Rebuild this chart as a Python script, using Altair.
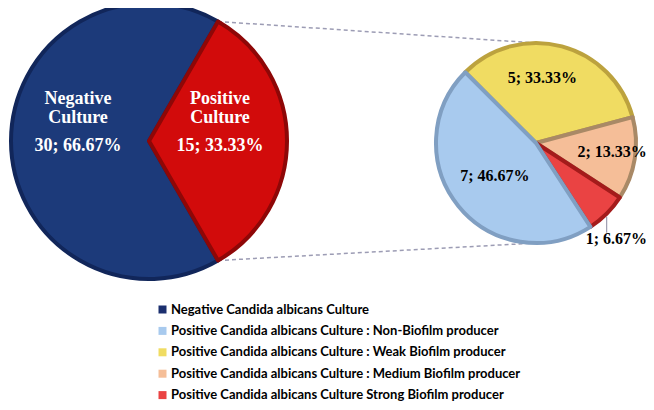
import math
import altair as alt
import pandas as pd

# ---------------- data ----------------
main_names = ["Negative Culture", "Positive Culture"]
main_word1 = ["Negative", "Positive"]
main_word2 = ["Culture", "Culture"]
main_counts = [30, 15]
main_percents = ["66.67%", "33.33%"]

sub_names = [
    "Positive Candida albicans Culture : Weak Biofilm producer",
    "Positive Candida albicans Culture : Medium Biofilm producer",
    "Positive Candida albicans Culture Strong Biofilm producer",
    "Positive Candida albicans Culture : Non-Biofilm producer",
]
sub_counts = [5, 2, 1, 7]
sub_percents = ["33.33%", "13.33%", "6.67%", "46.67%"]

legend_names = [
    "Negative Candida albicans Culture",
    "Positive Candida albicans Culture : Non-Biofilm producer",
    "Positive Candida albicans Culture : Weak Biofilm producer",
    "Positive Candida albicans Culture : Medium Biofilm producer",
    "Positive Candida albicans Culture Strong Biofilm producer",
]

# ---------------- layout / styles ----------------
W, H = 638, 394
MAIN_CX, MAIN_CY, MAIN_R = 141, 133, 138
SUB_CX, SUB_CY, SUB_R = 528, 135, 100
MAIN_START = math.radians(150)
SUB_START = math.radians(315)

main_fill = ["#1C3A7A", "#D20B0B"]
main_rim = ["#11265A", "#8E0707"]
sub_rim = ["#BCA23E", "#A98966", "#A41B1B", "#809FC2"]
legend_colors = ["#1B2F6E", "#A8CAEE", "#F0DC62", "#F5BE98", "#EA4343"]
# per-label placement inside the small pie: (radius, dx, dy)
sub_label_place = [(67, -11, 0), (77, 0, -3), (118, -3, 13), (53, 0, 0)]
SERIF = "Liberation Serif"

# ---------------- tables ----------------
main_df = pd.DataFrame({
    "name": main_names,
    "w1": main_word1,
    "w2": main_word2,
    "count": main_counts,
    "value": [f"{c}; {p}" for c, p in zip(main_counts, main_percents)],
    "idx": list(range(len(main_names))),
    "fill": main_fill,
    "rim": main_rim,
})

sub_df = pd.DataFrame({
    "name": sub_names,
    "count": sub_counts,
    "value": [f"{c}; {p}" for c, p in zip(sub_counts, sub_percents)],
    "idx": list(range(len(sub_names))),
    "rim": sub_rim,
})

# geometry derived from the data
main_total = sum(main_counts)
red_a0 = MAIN_START + 2 * math.pi * main_counts[0] / main_total
red_a1 = MAIN_START + 2 * math.pi
conn_df = pd.DataFrame({
    "x": [MAIN_CX + MAIN_R * math.sin(red_a0), MAIN_CX + MAIN_R * math.sin(red_a1)],
    "y": [MAIN_CY - MAIN_R * math.cos(red_a0), MAIN_CY - MAIN_R * math.cos(red_a1)],
    "x2": [SUB_CX + SUB_R * math.sin(0), SUB_CX + SUB_R * math.sin(math.pi)],
    "y2": [SUB_CY - SUB_R * math.cos(0), SUB_CY - SUB_R * math.cos(math.pi)],
})

sub_total = sum(sub_counts)
strong_mid = SUB_START + 2 * math.pi * (sum(sub_counts[:2]) + sub_counts[2] / 2) / sub_total
lx = SUB_CX + SUB_R * math.sin(strong_mid)
ly = SUB_CY - SUB_R * math.cos(strong_mid)
leader_df = pd.DataFrame({"x": [lx], "y": [ly + 3], "y2": [ly + 19]})

# ---------------- encodings ----------------
main_theta = alt.Theta("count:Q", stack=True,
                       scale=alt.Scale(range=[MAIN_START, MAIN_START + 2 * math.pi]))
sub_theta = alt.Theta("count:Q", stack=True,
                      scale=alt.Scale(range=[SUB_START, SUB_START + 2 * math.pi]))

connectors = alt.Chart(conn_df).mark_rule(
    strokeDash=[4, 3], color="#9C9CB4", strokeWidth=1.5
).encode(
    x=alt.X("x:Q", scale=None, axis=None),
    y=alt.Y("y:Q", scale=None, axis=None),
    x2="x2:Q", y2="y2:Q",
)

main_arc = alt.Chart(main_df).mark_arc(
    outerRadius=MAIN_R, strokeWidth=4, strokeJoin="round"
).encode(
    theta=main_theta,
    order=alt.Order("idx:Q"),
    fill=alt.Fill("fill:N", scale=None),
    stroke=alt.Stroke("rim:N", scale=None),
    x=alt.value(MAIN_CX), y=alt.value(MAIN_CY),
)


def main_text(field, dy):
    return alt.Chart(main_df).mark_text(
        radius=71, dy=dy, font=SERIF, fontWeight="bold", fontSize=18, color="white"
    ).encode(
        theta=main_theta,
        order=alt.Order("idx:Q"),
        text=alt.Text(f"{field}:N"),
        x=alt.value(MAIN_CX), y=alt.value(MAIN_CY),
    )


sub_arc = alt.Chart(sub_df).mark_arc(
    outerRadius=SUB_R, strokeWidth=4, strokeJoin="round"
).encode(
    theta=sub_theta,
    order=alt.Order("idx:Q"),
    fill=alt.Fill(
        "name:N",
        scale=alt.Scale(domain=legend_names, range=legend_colors),
        legend=alt.Legend(
            orient="none", legendX=148, legendY=295, direction="vertical",
            title=None, symbolType="square", symbolSize=64, symbolStrokeWidth=0,
            labelFont="Lato", labelFontWeight="bold", labelFontSize=13,
            labelColor="black", rowPadding=7.4, labelLimit=600, labelOffset=2,
        ),
    ),
    stroke=alt.Stroke("rim:N", scale=None),
    x=alt.value(SUB_CX), y=alt.value(SUB_CY),
)


def sub_text(i):
    r, dx, dy = sub_label_place[i]
    return alt.Chart(sub_df).transform_calculate(
        lab=f"datum.idx == {i} ? datum.value : ''"
    ).mark_text(
        radius=r, dx=dx, dy=dy, font=SERIF, fontWeight="bold", fontSize=16, color="black"
    ).encode(
        theta=sub_theta,
        order=alt.Order("idx:Q"),
        text=alt.Text("lab:N"),
        x=alt.value(SUB_CX), y=alt.value(SUB_CY),
    )


leader = alt.Chart(leader_df).mark_rule(color="#8A8AA0", strokeWidth=1).encode(
    x=alt.X("x:Q", scale=None, axis=None),
    y=alt.Y("y:Q", scale=None, axis=None),
    y2="y2:Q",
)

chart = alt.layer(
    connectors, main_arc, sub_arc,
    main_text("w1", -42), main_text("w2", -23), main_text("value", 5),
    *[sub_text(i) for i in range(len(sub_names))], leader,
).resolve_scale(
    theta="independent", fill="independent", stroke="independent",
    x="independent", y="independent",
).properties(
    width=W, height=H, padding=0, autosize=alt.AutoSizeParams(type="none"),
).configure_view(strokeWidth=0)

chart.save("out.html", embed_options={"renderer": "svg", "actions": False})
